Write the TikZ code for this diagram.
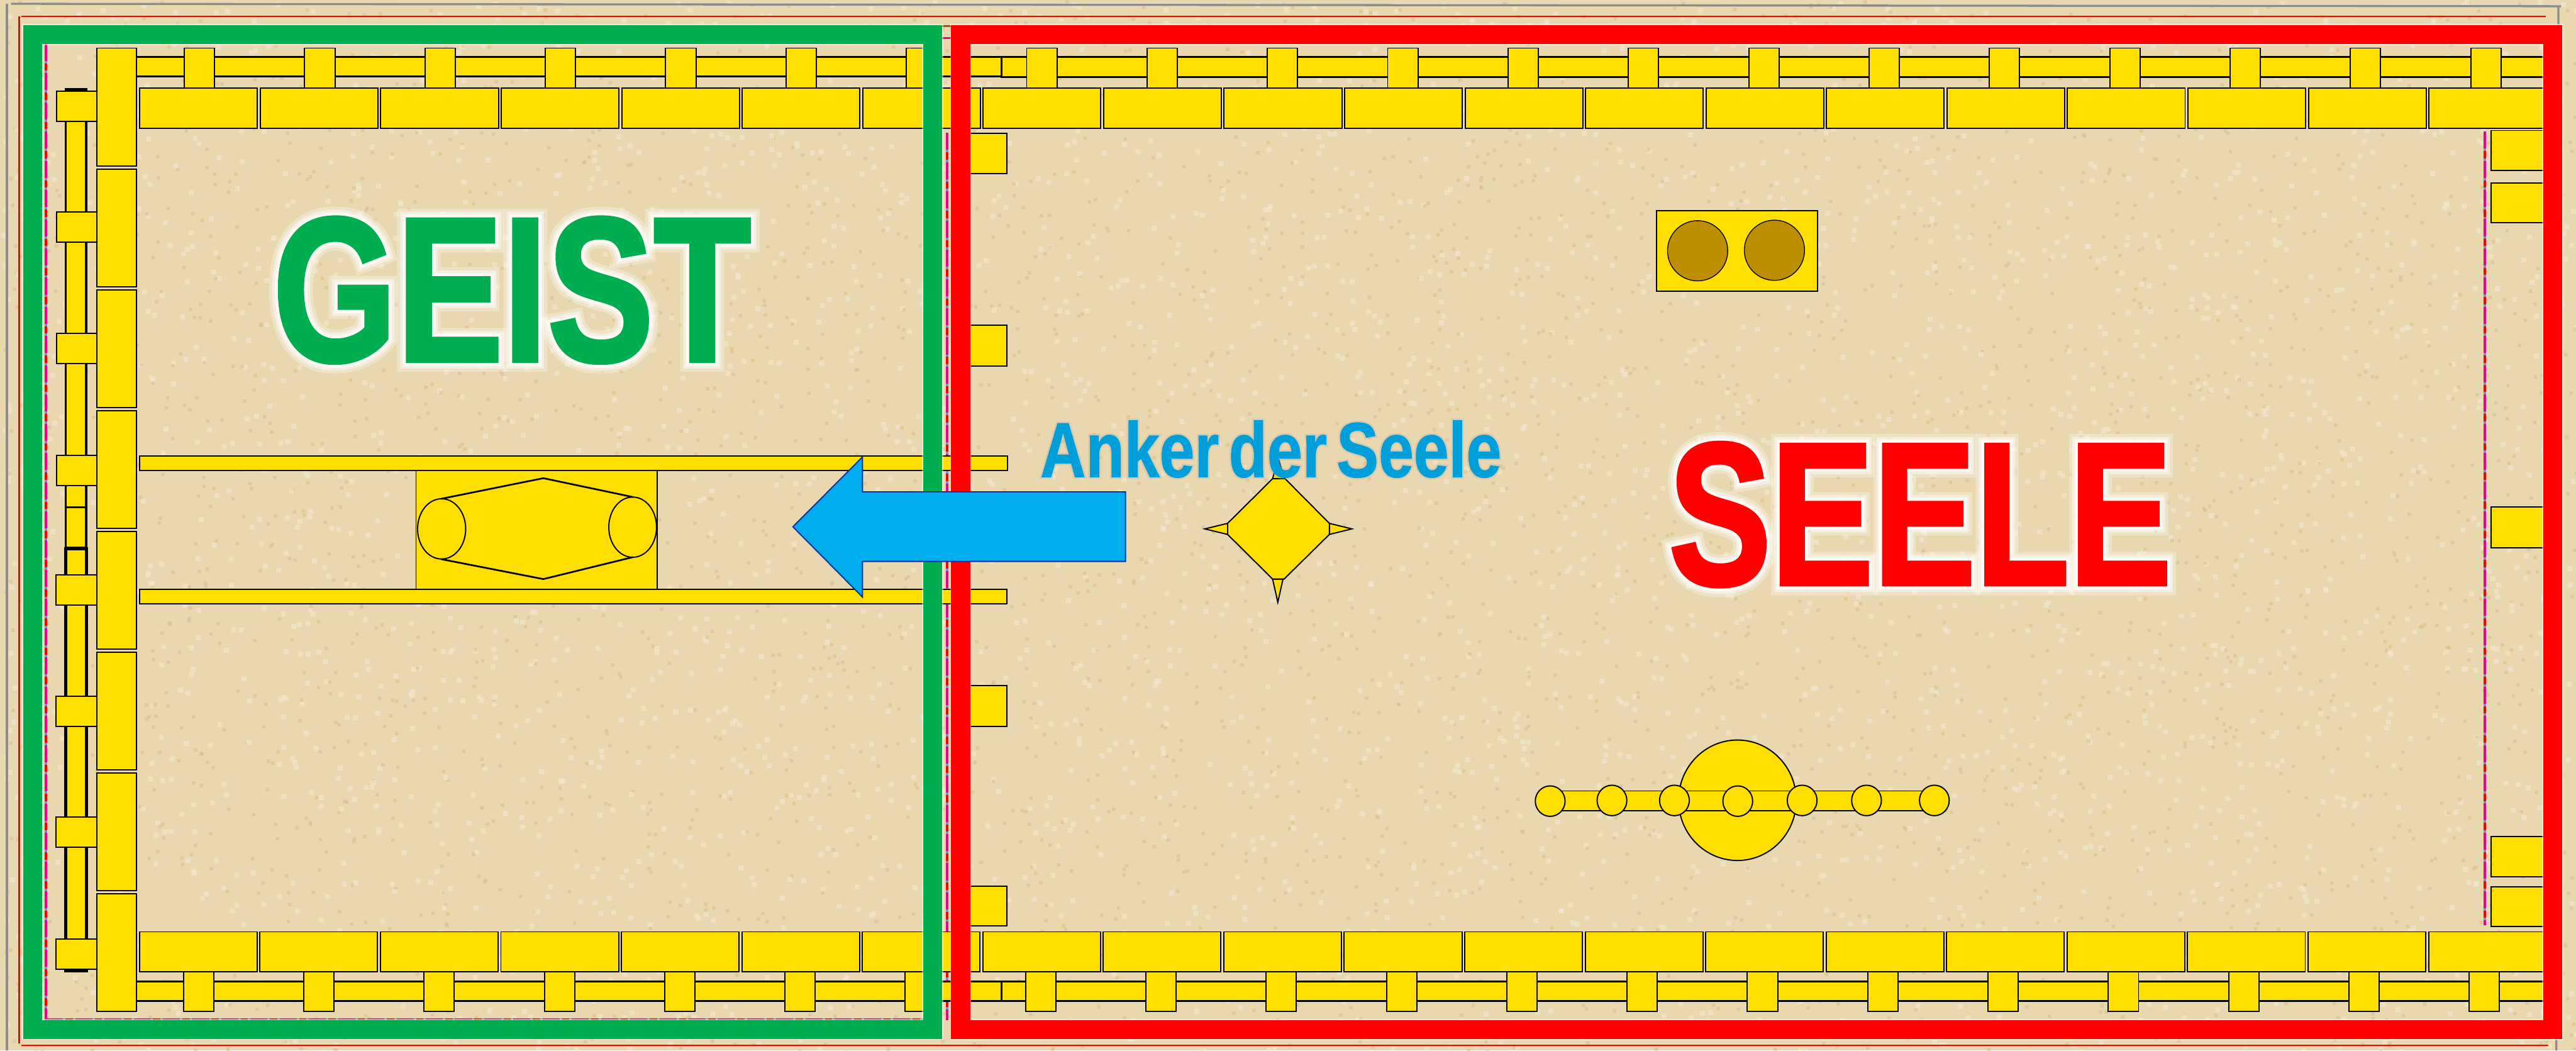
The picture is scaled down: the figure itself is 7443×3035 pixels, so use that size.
\documentclass[tikz,border=0pt]{standalone}
\usepackage{fontspec}
\newfontfamily\gfont{Liberation Sans Bold}[FakeStretch=.77,FakeBold=1.5]
\newfontfamily\gfontA{Liberation Sans Bold}[FakeStretch=.77,FakeBold=4.5]
\newfontfamily\gfontB{Liberation Sans Bold}[FakeStretch=.77,FakeBold=7]
\newfontfamily\gfontC{Liberation Sans Bold}[FakeStretch=.77,FakeBold=10]
\newfontfamily\sfont{Liberation Sans Bold}[FakeStretch=.75,FakeBold=1.5]
\newfontfamily\sfontA{Liberation Sans Bold}[FakeStretch=.75,FakeBold=4.5]
\newfontfamily\sfontB{Liberation Sans Bold}[FakeStretch=.75,FakeBold=7]
\newfontfamily\sfontC{Liberation Sans Bold}[FakeStretch=.75,FakeBold=10]
\newfontfamily\afont{Liberation Sans Bold}[FakeStretch=.81,FakeBold=.8,WordSpace=.55]
\newfontfamily\afontA{Liberation Sans Bold}[FakeStretch=.81,FakeBold=5,WordSpace=.55]
\definecolor{sand}{HTML}{E9D8AF}
\definecolor{gold}{HTML}{FFDF00}
\definecolor{frameg}{HTML}{00AE50}
\definecolor{framer}{HTML}{FF0000}
\definecolor{bowl}{HTML}{BD8E00}
\definecolor{arrowb}{HTML}{00AEEF}
\definecolor{textb}{HTML}{009FDA}
\definecolor{wallblue}{HTML}{7F90D0}
\tikzset{
  px/.style={x=0.01cm,y=-0.01cm},
  part/.style={fill=gold,draw=black,line width=1.0pt,line join=miter},
  railpart/.style={fill=gold,draw=black,line width=1.6pt},
  thin line/.style={line width=1.4pt},
  dashbase/.style={draw=wallblue,line width=2pt},
  dashm/.style={draw=magenta,line width=2pt,dash pattern=on 14pt off 10pt},
  dashr/.style={draw=red,line width=2pt,dash pattern=on 6pt off 18pt,dash phase=8pt},
  title/.style={anchor=base,inner sep=0pt,outer sep=0pt},
}
\newcommand{\dashedwall}[2]{%
  \draw[dashbase] #1 -- #2;
  \draw[dashm] #1 -- #2;
  \draw[dashr] #1 -- #2;}
\begin{document}
\begin{tikzpicture}[px]
\useasboundingbox (0,0) rectangle (7443,3035);
\fill[sand] (0,0) rectangle (7443,3035);
% sand grain
\pgfmathsetseed{4711}
\foreach \c in {1,...,150}{
  \fill[white!45!sand,opacity=.6] \foreach \i in {1,...,25}{
    ({random(0,7443)},{random(0,3035)}) rectangle ++(14,14)};
  \fill[brown!35!sand,opacity=.5] \foreach \i in {1,...,25}{
    ({random(0,7443)},{random(0,3035)}) rectangle ++(10,10)};
}
% outer guide lines
\draw[gray!90,line width=1.7pt] (32,11) -- (7400,18);
\draw[gray!90,line width=1.7pt] (20,11) -- (20,3035);
\draw[gray!90,line width=1.7pt] (7392,18) -- (7386,3035);
\draw[framer,line width=1.4pt] (62,47) -- (7355,47);
\draw[framer,line width=1.4pt] (56,47) -- (56,3015);
\draw[framer,line width=1.4pt] (62,3020) -- (7363,3020);
% dashed walls
\dashedwall{(133,127)}{(133,2947)}
\dashedwall{(133,2945)}{(2680,2945)}
\dashedwall{(2737,384)}{(2737,2947)}
\dashedwall{(7180,380)}{(7180,2673)}
\dashedwall{(2722,110)}{(2748,110)}
\draw[brown!70!black,line width=1.4pt] (2722,76) -- (2748,76);
% top and bottom rails
\draw[railpart] (394,165) rectangle (2894,221);
\draw[railpart] (2894,165) rectangle (7370,222);
\draw[railpart] (394,2835) rectangle (2894,2892);
\draw[railpart] (2894,2835) rectangle (7370,2892);
% tabs and boards along the long sides
\foreach \n in {0,...,19}{
  \pgfmathsetmacro{\xa}{532.5+347.7*\n}
  \pgfmathsetmacro{\xb}{530+347.6*\n}
  \draw[part] (\xa,139) rectangle ++(87.5,115);
  \draw[part] (\xb,2807) rectangle ++(87.5,115);
}
\foreach \n in {0,...,19}{
  \pgfmathsetmacro{\xa}{404+348.1*\n}
  \pgfmathsetmacro{\xb}{403+348.1*\n}
  \pgfmathsetmacro{\wa}{\n==19 ? 345 : 340}
  \draw[part] (\xa,254) rectangle ++(\wa,117);
  \draw[part] (\xb,2692) rectangle ++(\wa,116);
}
% rear rail and its tabs
\draw[railpart] (190,258) rectangle (249,1466);
\draw[railpart] (190,1466) rectangle (249,1581);
\draw[railpart,line width=2.6pt] (190,1585) rectangle (249,2805);
\foreach \y in {263,613,963,1316}{\draw[part] (163,\y) rectangle ++(116,87);}
\foreach \y in {1661,2011,2360,2713}{\draw[part] (161,\y) rectangle ++(118,87);}
% rear boards
\foreach \n in {0,...,7}{
  \pgfmathsetmacro{\ya}{139+349.1*\n}
  \draw[part] (279,\ya) rectangle ++(115,340);
}
% pillars on the dividing wall and on the far wall
\foreach \y/\h in {386/116,940/118,1980/118,2560/114}{\draw[part] (2760,\y) rectangle ++(150,\h);}
\foreach \y/\h in {377/116,528/116,1464/118,2417/115.5,2562/115}{\draw[part] (7198,\y) rectangle ++(172,\h);}
% cross beams
\draw[part] (403,1317) rectangle (2911,1359);
\draw[part] (403,1703) rectangle (2909,1744);
% central object
\draw[part] (1202,1359) rectangle (1899,1702);
\draw[black,thin line] (1275,1441) -- (1570,1381.5) -- (1829,1436);
\draw[black,thin line] (1275,1615.5) -- (1570,1673) -- (1829,1609.5);
\draw[black,line width=1pt] (1276,1528) ellipse[x radius=69.5,y radius=87];
\draw[black,line width=1pt] (1828,1523) ellipse[x radius=69,y radius=87];
% diamond
\draw[part] (3677,1383) -- (3693,1322) -- (3710,1383) -- cycle;
\draw[part] (3547,1512) -- (3481,1528) -- (3547,1544) -- cycle;
\draw[part] (3841,1512) -- (3906,1528) -- (3841,1544) -- cycle;
\draw[part] (3677,1673) -- (3692,1740) -- (3707,1673) -- cycle;
\draw[part] (3547,1512) -- (3677,1383) -- (3713,1383) -- (3841,1512) -- (3841,1544) -- (3710,1673) -- (3677,1673) -- (3547,1544) -- cycle;
% table with bowls
\draw[part] (4787,608) rectangle (5251,841);
\draw[fill=bowl,draw=black,line width=.7pt] (4905,724.5) ellipse[x radius=87,y radius=87];
\draw[fill=bowl,draw=black,line width=.7pt] (5127,723) ellipse[x radius=87,y radius=87];
% lamp
\draw[part] (5020,2312) ellipse[x radius=170,y radius=174];
\draw[part] (4479,2285) rectangle (5589,2343);
\foreach \x/\y in {4479/2314.5,4657.5/2312.5,4838/2312.5,5021/2314.5,5207/2312.5,5393/2312.5,5589/2312.5}{
  \draw[part] (\x,\y) ellipse[x radius=43,y radius=44];
}
% frames
\draw[draw=white,draw opacity=.5,line width=17.4pt] (94,100) rectangle (2695,2974);
\draw[draw=white,draw opacity=.5,line width=17.4pt] (2775.5,100) rectangle (7376,2974.5);
\draw[frameg,line width=15.4pt] (94,100) rectangle (2695,2974);
\draw[framer,line width=15.6pt] (2775.5,100) rectangle (7376,2974.5);
% arrow
\draw[fill=arrowb,draw=blue!50!black!70!arrowb,line width=1pt,line join=miter]
  (3252,1421) -- (2492,1421) -- (2492,1320) -- (2291,1522) -- (2492,1725) -- (2492,1622) -- (3252,1622) -- cycle;
% titles
\node[title,text=white,opacity=.3] (geistglowc) at (1479,1044) {\fontsize{170}{170}\gfontC GEIST};
\node[title,text=white,opacity=.45] (geistglowb) at (1479,1044) {\fontsize{170}{170}\gfontB GEIST};
\node[title,text=white,opacity=.7] (geistglowa) at (1479,1044) {\fontsize{170}{170}\gfontA GEIST};
\node[title,text=frameg] (geist) at (1479,1044) {\fontsize{170}{170}\gfont GEIST};
\node[title,text=white,opacity=.3] (seeleglowc) at (5548,1690) {\fontsize{168}{168}\sfontC SEELE};
\node[title,text=white,opacity=.45] (seeleglowb) at (5548,1690) {\fontsize{168}{168}\sfontB SEELE};
\node[title,text=white,opacity=.7] (seeleglowa) at (5548,1690) {\fontsize{168}{168}\sfontA SEELE};
\node[title,text=framer] (seele) at (5548,1690) {\fontsize{168}{168}\sfont SEELE};
\node[title,text=gray!60,opacity=.35] (ankerglow) at (3672,1378) {\fontsize{64}{64}\afontA Anker der Seele};
\node[title,text=textb] (anker) at (3672,1378) {\fontsize{64}{64}\afont Anker der Seele};
\end{tikzpicture}
\end{document}
